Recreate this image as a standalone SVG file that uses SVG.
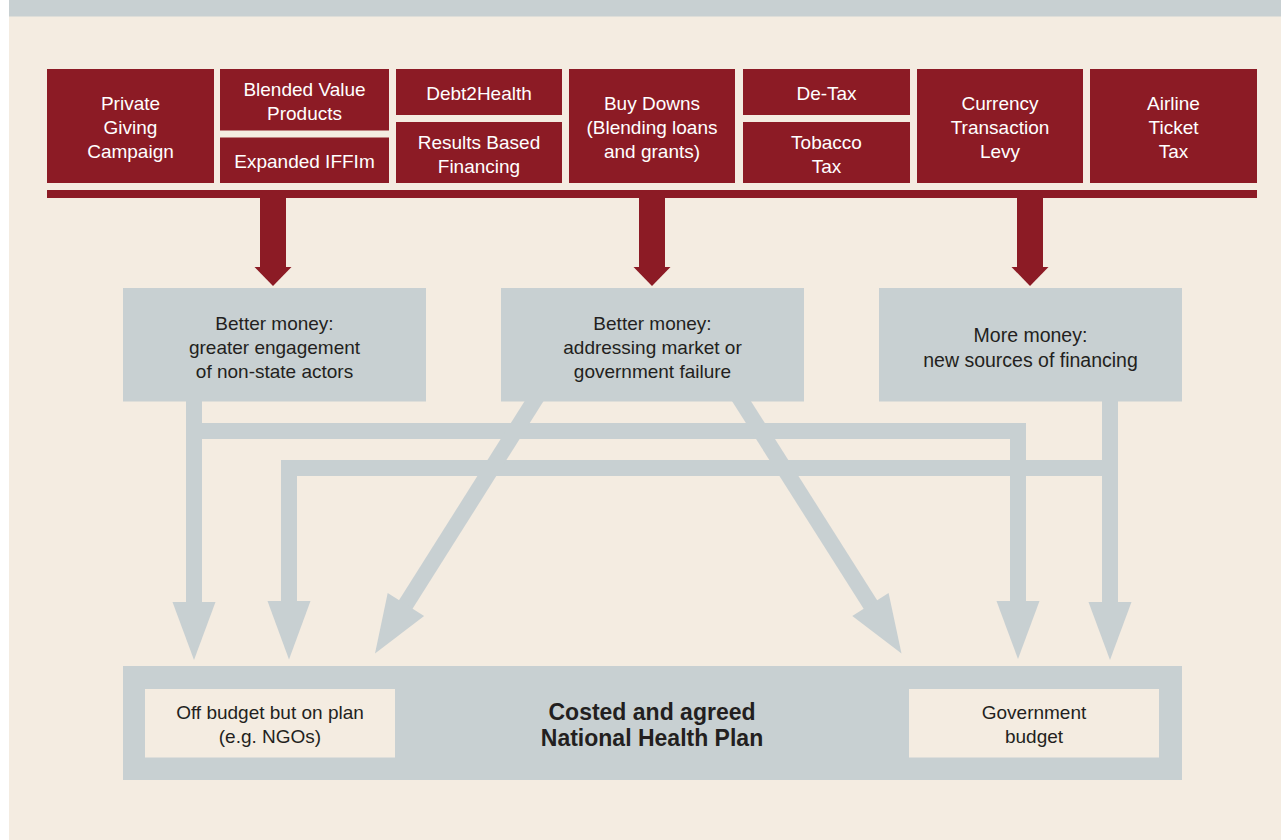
<svg xmlns="http://www.w3.org/2000/svg" width="1281" height="840" viewBox="0 0 1281 840">
  <defs>
    <style>
      .red { fill: #8C1B25; }
      .gray { fill: #C8D0D2; }
      .cream { fill: #F4ECE1; }
      .conn { fill: none; stroke: #C8D0D2; stroke-width: 16; stroke-linejoin: miter; stroke-linecap: butt; }
      .head { fill: #C8D0D2; }
      .wt { font-family: "Liberation Sans", Arial, sans-serif; font-size: 19px; fill: #FFFFFF; text-anchor: middle; }
      .dt { font-family: "Liberation Sans", Arial, sans-serif; font-size: 19px; fill: #231F20; text-anchor: middle; }
      .bt { font-family: "Liberation Sans", Arial, sans-serif; font-size: 23px; font-weight: bold; fill: #231F20; text-anchor: middle; }
    </style>
  </defs>

  <!-- page and panel -->
  <rect x="0" y="0" width="1281" height="840" fill="#FFFFFF"/>
  <rect x="9" y="0" width="1272" height="840" class="cream"/>
  <rect x="9" y="0" width="1272" height="16.5" class="gray"/>

  <!-- financing instruments (top row) -->
  <g id="private-giving">
    <rect x="47" y="69" width="167" height="114" class="red"/>
    <text class="wt" x="130.5" y="110">Private</text>
    <text class="wt" x="130.5" y="134">Giving</text>
    <text class="wt" x="130.5" y="158">Campaign</text>
  </g>
  <g id="blended-value">
    <rect x="220" y="69" width="169" height="61.5" class="red"/>
    <text class="wt" x="304.5" y="96">Blended Value</text>
    <text class="wt" x="304.5" y="120">Products</text>
  </g>
  <g id="expanded-iffim">
    <rect x="220" y="137.5" width="169" height="45.5" class="red"/>
    <text class="wt" x="304.5" y="168">Expanded IFFIm</text>
  </g>
  <g id="debt2health">
    <rect x="396" y="69" width="166" height="46" class="red"/>
    <text class="wt" x="479" y="100">Debt2Health</text>
  </g>
  <g id="results-based">
    <rect x="396" y="122" width="166" height="61" class="red"/>
    <text class="wt" x="479" y="149">Results Based</text>
    <text class="wt" x="479" y="173">Financing</text>
  </g>
  <g id="buy-downs">
    <rect x="569" y="69" width="166" height="114" class="red"/>
    <text class="wt" x="652" y="110">Buy Downs</text>
    <text class="wt" x="652" y="134">(Blending loans</text>
    <text class="wt" x="652" y="158">and grants)</text>
  </g>
  <g id="de-tax">
    <rect x="743" y="69" width="167" height="46" class="red"/>
    <text class="wt" x="826.5" y="100">De-Tax</text>
  </g>
  <g id="tobacco-tax">
    <rect x="743" y="122" width="167" height="61" class="red"/>
    <text class="wt" x="826.5" y="149">Tobacco</text>
    <text class="wt" x="826.5" y="173">Tax</text>
  </g>
  <g id="currency-levy">
    <rect x="917" y="69" width="166" height="114" class="red"/>
    <text class="wt" x="1000" y="110">Currency</text>
    <text class="wt" x="1000" y="134">Transaction</text>
    <text class="wt" x="1000" y="158">Levy</text>
  </g>
  <g id="airline-tax">
    <rect x="1090" y="69" width="167" height="114" class="red"/>
    <text class="wt" x="1173.5" y="110">Airline</text>
    <text class="wt" x="1173.5" y="134">Ticket</text>
    <text class="wt" x="1173.5" y="158">Tax</text>
  </g>

  <!-- red collector bar and downward arrows -->
  <g id="red-arrows" class="red">
    <rect x="47" y="190" width="1210" height="8"/>
    <rect x="260" y="197" width="26" height="71"/>
    <polygon points="254.5,267 291.5,267 273,286"/>
    <rect x="639" y="197" width="26" height="71"/>
    <polygon points="633.5,267 670.5,267 652,286"/>
    <rect x="1017" y="197" width="26" height="71"/>
    <polygon points="1011.5,267 1048.5,267 1030,286"/>
  </g>

  <!-- flows into the plan -->
  <g id="connectors">
    <path class="conn" d="M194,395 V604"/>
    <path class="conn" d="M194,431 H1018 V603"/>
    <path class="conn" d="M1110,395 V604"/>
    <path class="conn" d="M1110,468 H289 V603"/>
    <path class="conn" d="M541.1,390 L404.8,606.1"/>
    <path class="conn" d="M734.4,390 L871.5,606.2"/>
    <polygon class="head" points="172.5,602 215.5,602 194,660"/>
    <polygon class="head" points="267.5,601 310.5,601 289,659.5"/>
    <polygon class="head" points="996.5,601 1039.5,601 1018,659"/>
    <polygon class="head" points="1088.5,602 1131.5,602 1110,660"/>
    <polygon class="head" points="387.7,592.9 424.1,615.9 375,653.5"/>
    <polygon class="head" points="888.6,593 852.3,616 901.5,653.5"/>
  </g>

  <!-- categories -->
  <g id="non-state-actors">
    <rect x="123" y="288" width="303" height="113.5" class="gray"/>
    <text class="dt" x="274.5" y="330">Better money:</text>
    <text class="dt" x="274.5" y="354">greater engagement</text>
    <text class="dt" x="274.5" y="378">of non-state actors</text>
  </g>
  <g id="market-failure">
    <rect x="501" y="288" width="303" height="113.5" class="gray"/>
    <text class="dt" x="652.5" y="330">Better money:</text>
    <text class="dt" x="652.5" y="354">addressing market or</text>
    <text class="dt" x="652.5" y="378">government failure</text>
  </g>
  <g id="new-sources">
    <rect x="879" y="288" width="303" height="113.5" class="gray"/>
    <text class="dt" x="1030.5" y="342" style="font-size:19.5px">More money:</text>
    <text class="dt" x="1030.5" y="366.5" style="font-size:19.5px">new sources of financing</text>
  </g>

  <!-- national health plan -->
  <g id="health-plan">
    <rect x="123" y="666" width="1059" height="114" class="gray"/>
    <text class="bt" x="652" y="720">Costed and agreed</text>
    <text class="bt" x="652" y="746">National Health Plan</text>
  </g>
  <g id="off-budget">
    <rect x="145" y="689" width="250" height="68.5" class="cream"/>
    <text class="dt" x="270" y="719">Off budget but on plan</text>
    <text class="dt" x="270" y="743">(e.g. NGOs)</text>
  </g>
  <g id="government-budget">
    <rect x="909" y="689" width="250" height="68.5" class="cream"/>
    <text class="dt" x="1034" y="719">Government</text>
    <text class="dt" x="1034" y="743">budget</text>
  </g>
</svg>
